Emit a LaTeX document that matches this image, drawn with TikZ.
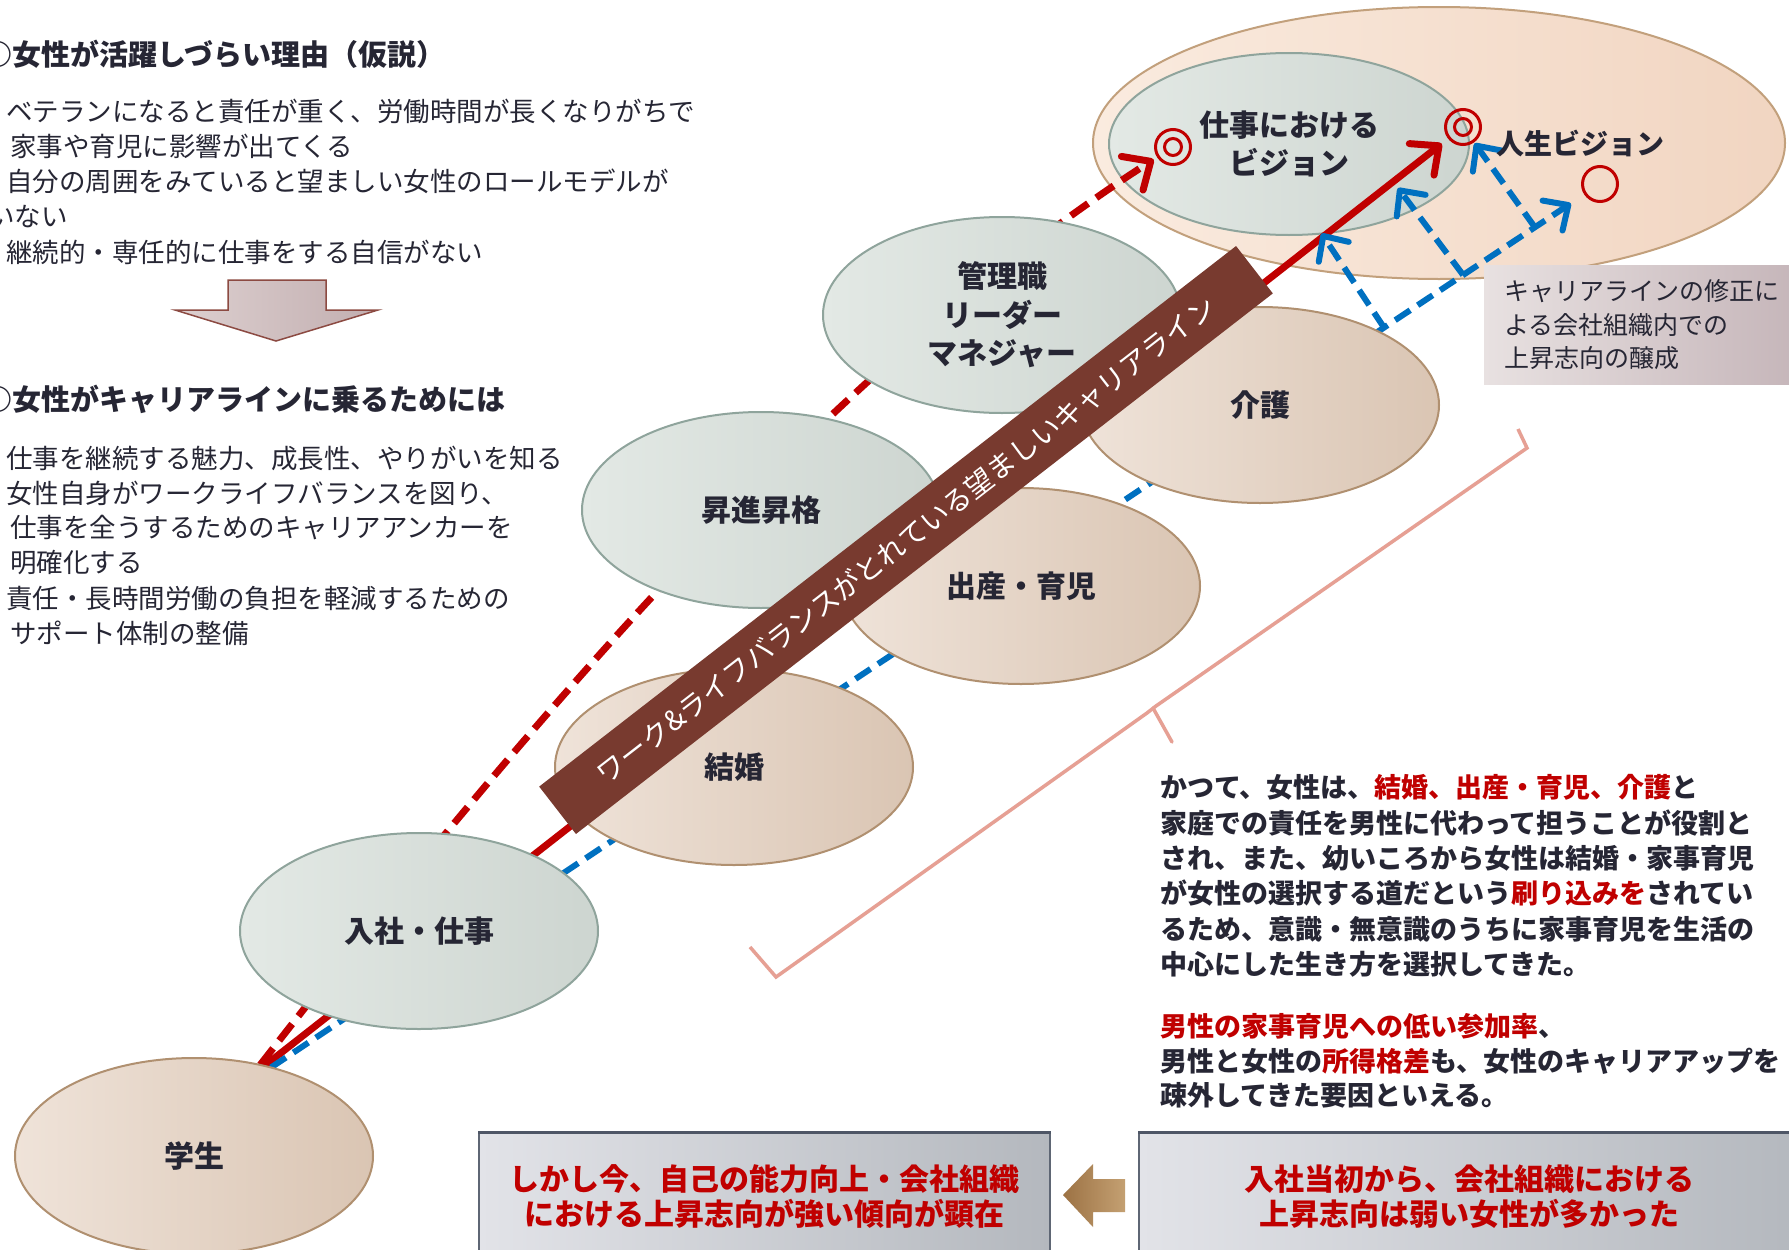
\documentclass[tikz,border=0pt]{standalone}
\usepackage{fontspec}
\setmainfont{Noto Sans CJK JP}
\usetikzlibrary{shapes.geometric,arrows.meta,calc}
\pgfdeclarelayer{paper}
\pgfdeclarelayer{vision}
\pgfdeclarelayer{lines}
\pgfsetlayers{paper,vision,lines,main}
\definecolor{jpred}{HTML}{C00000}
\definecolor{jpblue}{HTML}{0070C0}
\definecolor{jptext}{HTML}{262634}
\definecolor{bannerbrown}{HTML}{783A2F}
\definecolor{bracepink}{HTML}{E6A094}
\definecolor{workleft}{HTML}{E3E9E5}
\definecolor{workright}{HTML}{CDD5D0}
\definecolor{workedge}{HTML}{8FA49C}
\definecolor{lifeleft}{HTML}{EFE3D9}
\definecolor{liferight}{HTML}{DAC5B3}
\definecolor{lifeedge}{HTML}{B09070}
\definecolor{visionleft}{HTML}{FAEBDF}
\definecolor{visionright}{HTML}{F1D5C1}
\definecolor{visionedge}{HTML}{C2A07C}
\definecolor{noteleft}{HTML}{E8E1E1}
\definecolor{noteright}{HTML}{C5B5B9}
\definecolor{boxleft}{HTML}{E2E3E8}
\definecolor{boxright}{HTML}{B4B8BE}
\definecolor{boxedge}{HTML}{5E6674}
\definecolor{boxtop}{HTML}{4E5666}
\definecolor{downleft}{HTML}{DDD0D0}
\definecolor{downright}{HTML}{C2AEB0}
\definecolor{downedge}{HTML}{8C4A42}
\definecolor{backleft}{HTML}{9C7244}
\definecolor{backright}{HTML}{C4A072}
\newcommand{\redtxt}[1]{\textcolor{jpred}{#1}}

\begin{document}
\begin{tikzpicture}[x=1pt,y=-1pt,
  stage/.style={ellipse,minimum width=358pt,minimum height=196pt,inner sep=0pt,outer sep=0pt,
    line width=2pt,align=center,text=jptext,font=\fontsize{30}{38.5}\selectfont\bfseries},
  workstage/.style={stage,draw=workedge,left color=workleft,right color=workright},
  lifestage/.style={stage,draw=lifeedge,left color=lifeleft,right color=liferight},
  bodytext/.style={anchor=west,inner sep=0pt,text=jptext,font=\fontsize{26.5}{32}\selectfont},
  headtext/.style={bodytext,font=\fontsize{29}{34}\selectfont\bfseries},
  storytext/.style={bodytext,font=\fontsize{27}{34}\selectfont\bfseries},
  goalring/.style={circle,draw=jpred,line width=3pt,minimum size=35pt,inner sep=0pt},
  bullseye/.style={goalring,path picture={\draw[jpred,line width=3pt] (path picture bounding box.center) circle (8.5pt);}},
  redline/.style={jpred,line width=7pt,-{Straight Barb[length=22pt,width=40pt,round]}},
  blueline/.style={jpblue,line width=6pt,dash pattern=on 18pt off 9pt,-{Straight Barb[length=19pt,width=36pt,round]}},
  storybox/.style={minimum width=571pt,minimum height=127pt,inner sep=0pt,draw=boxedge,line width=2pt,
    left color=boxleft,right color=boxright,align=center,text=jpred,font=\fontsize{30}{35}\selectfont\bfseries}]
  \useasboundingbox (0,0) rectangle (1789,1250);
  \begin{pgfonlayer}{paper}
    \fill[white] (0,0) rectangle (1789,1250);
  \end{pgfonlayer}

  % visions
  \begin{pgfonlayer}{vision}
    \node[ellipse,minimum width=692pt,minimum height=272pt,inner sep=0pt,outer sep=0pt,line width=2pt,
      draw=visionedge,left color=visionleft,right color=visionright] (lifevision) at (1439,143) {};
    \node[workstage,minimum width=360pt,minimum height=182pt] (workvision) at (1289,144) {仕事における\\ビジョン};
  \end{pgfonlayer}
  \node[font=\fontsize{28}{30}\selectfont\bfseries,text=jptext] (lifelabel) at (1580,143) {人生ビジョン};

  % stages
  \node[lifestage] (student)  at (194,1156) {学生};
  \node[workstage] (entry)    at (419,931)  {入社・仕事};
  \node[lifestage] (marriage) at (734,767)  {結婚};
  \node[workstage] (promo)    at (761,510)  {昇進昇格};
  \node[lifestage] (birth)    at (1021,586) {出産・育児};
  \node[workstage] (manager)  at (1002,315) {管理職\\リーダー\\マネジャー};
  \node[lifestage] (care)     at (1260,405) {介護};

  \node[rotate=37.8,minimum width=882pt,minimum height=60pt,inner sep=0pt,fill=bannerbrown,text=white,
    font=\fontsize{28}{30}\selectfont] (wlb) at (906,540) {ワーク\&ライフバランスがとれている望ましいキャリアライン};

  \node[bullseye] (workgoal)   at (1173,147) {};
  \node[bullseye] (visiongoal) at (1463,127) {};
  \node[goalring] (lifegoal)   at (1600,184) {};

  \begin{pgfonlayer}{lines}
    \draw[redline,dash pattern=on 21pt off 10pt,shorten >=4pt] (student.54) .. controls (566,672) and (850,355) .. (workgoal);
    \draw[redline,shorten >=8pt] (student.52) -- (visiongoal);
    \draw[blueline,shorten >=16pt] (student.49) -- (lifegoal);
    \coordinate (fork1) at ($(student.49)!0.8375!(lifegoal)$);
    \coordinate (fork2) at ($(student.49)!0.897!(lifegoal)$);
    \coordinate (fork3) at ($(student.49)!0.951!(lifegoal)$);
    \coordinate (rise2) at (1398,188);
    \draw[blueline] (fork1) -- (workvision.-70);
    \draw[blueline] (fork2) -- (rise2);
    \draw[blueline,shorten >=1pt] (fork3) -- (visiongoal);
  \end{pgfonlayer}

  \node[anchor=north west,minimum width=316pt,minimum height=119pt,inner sep=0pt,left color=noteleft,right color=noteright,
    align=left,text=jptext,font=\fontsize{25}{33.5}\selectfont] (revise) at (1484,265) {キャリアラインの修正に\\よる会社組織内での\\上昇志向の醸成};

  \draw[bracepink,line width=3.5pt] (1518,429) -- (1527,448) -- (1156,706) -- (1147,713) -- (776,977) -- (750,947);
  \draw[bracepink,line width=3.5pt,line cap=round] (1153,708) -- (1172,742);

  % left text
  \node[headtext] (title1) at (-17,54) {○女性が活躍しづらい理由（仮説）};
  \foreach \xx/\yy/\txt [count=\i] in {
    6/111/{ベテランになると責任が重く、労働時間が長くなりがちで},
    10/146/{家事や育児に影響が出てくる},
    6/181/{自分の周囲をみていると望ましい女性のロールモデルが},
    -12/217/{いない},
    6/252/{継続的・専任的に仕事をする自信がない}}
    \node[bodytext] (reason\i) at (\xx,\yy) {\txt};
  \shadedraw[left color=downleft,right color=downright,draw=downedge,line width=1.5pt]
    (228,280) -- (326,280) -- (326,310) -- (378,310) -- (276,341) -- (175,310) -- (228,310) -- cycle;
  \node[headtext] (title2) at (-17,399) {○女性がキャリアラインに乗るためには};
  \foreach \xx/\yy/\txt [count=\i] in {
    6/458/{仕事を継続する魅力、成長性、やりがいを知る},
    6/493/{女性自身がワークライフバランスを図り、},
    10/528/{仕事を全うするためのキャリアアンカーを},
    10/563/{明確化する},
    6/598/{責任・長時間労働の負担を軽減するための},
    10/633/{サポート体制の整備}}
    \node[bodytext] (remedy\i) at (\xx,\yy) {\txt};

  % right text
  \foreach \yy/\txt [count=\i] in {
    787/{かつて、女性は、\redtxt{結婚、出産・育児、介護}と},
    823/{家庭での責任を男性に代わって担うことが役割と},
    858/{され、また、幼いころから女性は結婚・家事育児},
    893/{が女性の選択する道だという\redtxt{刷り込みを}されてい},
    929/{るため、意識・無意識のうちに家事育児を生活の},
    964/{中心にした生き方を選択してきた。},
    1026/{\redtxt{男性の家事育児への低い参加率}、},
    1061/{男性と女性の\redtxt{所得格差}も、女性のキャリアアップを},
    1095/{疎外してきた要因といえる。}}
    \node[storytext] (story\i) at (1160,\yy) {\txt};

  % bottom
  \node[storybox] (nowbox) at (764.5,1196.5) {しかし今、自己の能力向上・会社組織\\における上昇志向が強い傾向が顕在};
  \node[storybox,minimum width=661pt] (pastbox) at (1469.5,1196.5) {入社当初から、会社組織における\\上昇志向は弱い女性が多かった};
  \draw[boxtop,line width=3pt] (nowbox.north west) -- (nowbox.north east);
  \draw[boxtop,line width=3pt] (pastbox.north west) -- (pastbox.north east);
  \shade[left color=backleft,right color=backright]
    (1063,1195) -- (1093,1164) -- (1093,1179) -- (1125,1179) -- (1125,1212) -- (1093,1212) -- (1093,1227) -- cycle;
\end{tikzpicture}
\end{document}
